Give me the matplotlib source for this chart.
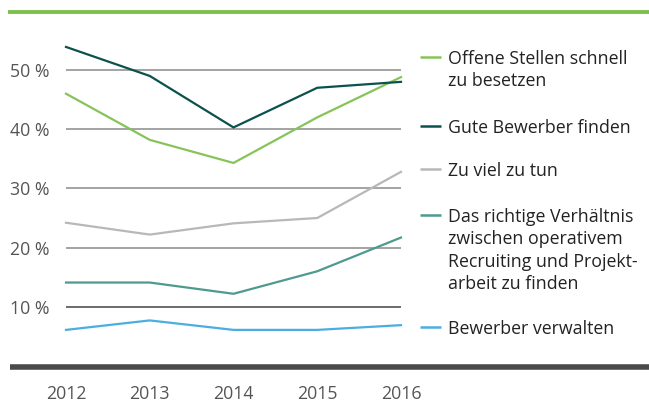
import matplotlib
matplotlib.use("Agg")
import matplotlib.pyplot as plt
from matplotlib.lines import Line2D

years = [2012, 2013, 2014, 2015, 2016]
offene = [46, 38.2, 34.3, 42, 48.8]
gute = [53.9, 49, 40.3, 47, 48]
zuviel = [24.2, 22.2, 24.1, 25, 32.8]
verhaeltnis = [14.1, 14.1, 12.2, 16, 21.7]
verwalten = [6.1, 7.7, 6.1, 6.1, 6.9]

labels = ["Offene Stellen schnell\nzu besetzen",
          "Gute Bewerber finden",
          "Zu viel zu tun",
          "Das richtige Verhältnis\nzwischen operativem\nRecruiting und Projekt-\narbeit zu finden",
          "Bewerber verwalten"]
colors = ["#86c45a", "#0b514d", "#b8b8b8", "#4f9a90", "#4caee0"]
series = [offene, gute, zuviel, verhaeltnis, verwalten]
yticks = [10, 20, 30, 40, 50]
ytick_labels = ["10 %", "20 %", "30 %", "40 %", "50 %"]

FONT = "Open Sans"
FS = 12.8
W, H = 649, 403

fig = plt.figure(figsize=(6.49, 4.03), dpi=100)
fig.patch.set_facecolor("white")

def fx(px):
    return px / W

def fy(py):
    return 1 - py / H

# main axes: x from 66 to 401 px, y 0 at 366 px, 56 at ~34.5 px
ax = fig.add_axes([fx(66), fy(366), fx(401) - fx(66), fy(34.5) - fy(366)])
ax.set_xlim(years[0], years[-1])
ax.set_ylim(0, 56)
for s in ax.spines.values():
    s.set_visible(False)
ax.set_xticks(years)
ax.set_xticklabels([str(y) for y in years], fontfamily=FONT, fontsize=FS, color="#555555")
ax.tick_params(axis="x", length=0, pad=14)
ax.set_yticks(yticks)
ax.set_yticklabels(ytick_labels, fontfamily=FONT, fontsize=FS, color="#555555")
ax.tick_params(axis="y", length=0, pad=12)

for yv in yticks:
    ax.axhline(yv, color="#444444" if yv == 10 else "#8a8a8a", lw=1.1, zorder=1)

for vals, c in zip(series, colors):
    ax.plot(years, vals, color=c, lw=1.6, zorder=3, clip_on=False, solid_joinstyle="miter")

# top and bottom bars
fig.add_artist(Line2D([fx(8), 1], [fy(11.5), fy(11.5)], color="#7ec04e", lw=2.8,
                      solid_capstyle="butt"))
fig.add_artist(Line2D([fx(10), 1], [fy(366.5), fy(366.5)], color="#4a4a4a", lw=4,
                      solid_capstyle="butt"))

# legend (manual, handle aligned with first line)
first_line_y = [57, 126, 169, 215, 327]
for lab, c, py in zip(labels, colors, first_line_y):
    fig.add_artist(Line2D([fx(420), fx(441)], [fy(py), fy(py)], color=c, lw=1.8,
                          solid_capstyle="butt"))
    fig.text(fx(448), fy(py - 7), lab, fontfamily=FONT, fontsize=FS, color="#222222",
             va="top", ha="left", linespacing=1.32)

fig.savefig("out.png", dpi=100, facecolor="white")
